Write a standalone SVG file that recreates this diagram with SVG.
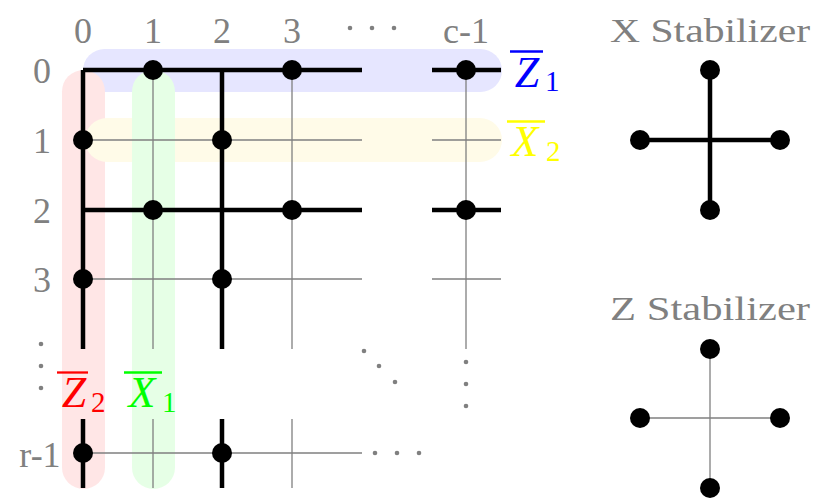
<svg xmlns="http://www.w3.org/2000/svg" width="828" height="499" viewBox="0 0 828 499">
<style>
.lbl{font-family:"Liberation Serif","DejaVu Serif",serif;font-size:36px;fill:#808080;text-anchor:middle}
.stab{font-family:"Liberation Serif","DejaVu Serif",serif;font-size:33px;fill:#808080;text-anchor:middle}
.math{font-family:"Liberation Serif","DejaVu Serif",serif;font-style:italic;font-size:44px;text-anchor:middle}
.sub{font-family:"Liberation Serif","DejaVu Serif",serif;font-size:29px}
.thin{stroke:#808080;stroke-width:1.3;fill:none}
.thick{stroke:#000;stroke-width:4.5;fill:none}
.q{fill:#000}
.ell{fill:#808080}
</style>
<rect width="828" height="499" fill="#fff"/>
<g id="bands">
<rect id="band-z1" x="83" y="49" width="419" height="43" rx="21.5" fill="#e6e6ff"/>
<rect id="band-z2" x="62" y="70" width="43" height="419" rx="21.5" fill="#ffe6e6"/>
<rect id="band-x2" x="85" y="118" width="417" height="44" rx="22" fill="#fffbe8"/>
<rect id="band-x1" x="132" y="70" width="43" height="419" rx="21.5" fill="#e6ffe6"/>
</g>
<g id="connectors">
<g class="thin">
<path d="M83 70H362M432 70H501M83 140H362M432 140H501M83 210H362M432 210H501M83 279H362M432 279H501M83 453H362"/>
<path d="M83 70V349M83 419V488M153 70V349M153 419V488M222 70V349M222 419V488M292 70V349M292 419V488M466 70V349"/>
<path d="M710 349V488M640 418H780"/>
</g>
<g class="thick">
<path d="M83 70H362M432 70H501M83 210H362M432 210H501"/>
<path d="M83 70V349M83 419V488M222 70V349M222 419V488"/>
<path d="M710 70V210M640 140H780"/>
</g>
</g>
<g id="qubits" class="q">
<circle cx="153" cy="70" r="10"/>
<circle cx="292" cy="70" r="10"/>
<circle cx="466" cy="70" r="10"/>
<circle cx="83" cy="140" r="10"/>
<circle cx="222" cy="140" r="10"/>
<circle cx="153" cy="210" r="10"/>
<circle cx="292" cy="210" r="10"/>
<circle cx="466" cy="210" r="10"/>
<circle cx="83" cy="279" r="10"/>
<circle cx="222" cy="279" r="10"/>
<circle cx="83" cy="453" r="10"/>
<circle cx="222" cy="453" r="10"/>
</g>
<g id="x-stabilizer">
<text class="stab" x="710" y="42" textLength="200" lengthAdjust="spacingAndGlyphs">X Stabilizer</text>
<g class="q">
<circle cx="710" cy="70" r="10"/><circle cx="640" cy="140" r="10"/><circle cx="780" cy="140" r="10"/><circle cx="710" cy="210" r="10"/>
</g>
</g>
<g id="z-stabilizer">
<text class="stab" x="710" y="320" textLength="200" lengthAdjust="spacingAndGlyphs">Z Stabilizer</text>
<g class="q">
<circle cx="710" cy="349" r="10"/><circle cx="640" cy="418" r="10"/><circle cx="780" cy="418" r="10"/><circle cx="710" cy="488" r="10"/>
</g>
</g>
<g id="col-labels">
<text class="lbl" x="83" y="43">0</text>
<text class="lbl" x="153" y="43">1</text>
<text class="lbl" x="222" y="43">2</text>
<text class="lbl" x="292" y="43">3</text>
<text class="lbl" x="466" y="43">c-1</text>
<g class="ell"><circle cx="350" cy="28" r="2.3"/><circle cx="372" cy="28" r="2.3"/><circle cx="394" cy="28" r="2.3"/></g>
</g>
<g id="row-labels">
<text class="lbl" x="42" y="83">0</text>
<text class="lbl" x="42" y="153">1</text>
<text class="lbl" x="42" y="223">2</text>
<text class="lbl" x="42" y="292">3</text>
<text class="lbl" x="40" y="467">r-1</text>
<g class="ell"><circle cx="41" cy="344" r="2.3"/><circle cx="41" cy="366" r="2.3"/><circle cx="41" cy="388" r="2.3"/></g>
</g>
<g id="ellipses" class="ell">
<circle cx="364" cy="351" r="2.3"/><circle cx="379" cy="366" r="2.3"/><circle cx="395" cy="382" r="2.3"/>
<circle cx="466" cy="362" r="2.3"/><circle cx="466" cy="384" r="2.3"/><circle cx="466" cy="406" r="2.3"/>
<circle cx="375" cy="453" r="2.3"/><circle cx="397" cy="453" r="2.3"/><circle cx="419" cy="453" r="2.3"/>
</g>
<g id="label-z1" fill="#0000ff">
<line x1="510" y1="51.5" x2="543" y2="51.5" stroke="#0000ff" stroke-width="2.3"/>
<text class="math" x="527" y="87">Z</text>
<text class="sub" x="545" y="91">1</text>
</g>
<g id="label-x2" fill="#ffff00">
<line x1="507" y1="121.5" x2="545" y2="121.5" stroke="#ffff00" stroke-width="2.3"/>
<text class="math" x="525" y="156">X</text>
<text class="sub" x="546" y="161">2</text>
</g>
<g id="label-z2" fill="#ff0000">
<line x1="57" y1="372.5" x2="88" y2="372.5" stroke="#ff0000" stroke-width="2.3"/>
<text class="math" x="74" y="407">Z</text>
<text class="sub" x="91" y="412">2</text>
</g>
<g id="label-x1" fill="#00ff00">
<line x1="124" y1="372.5" x2="162" y2="372.5" stroke="#00ff00" stroke-width="2.3"/>
<text class="math" x="142" y="407">X</text>
<text class="sub" x="162" y="412">1</text>
</g>
</svg>
